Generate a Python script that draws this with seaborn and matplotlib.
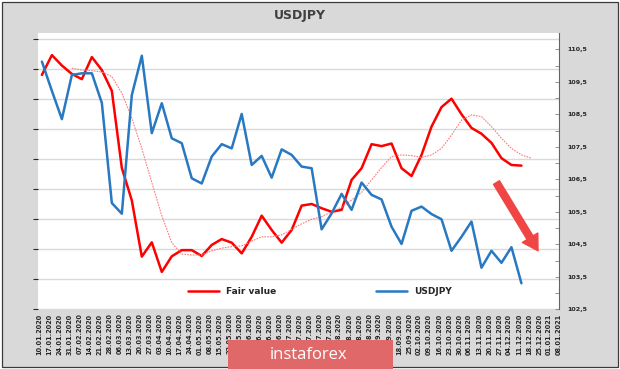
import numpy as np
import pandas as pd
import matplotlib
matplotlib.use("Agg")
import matplotlib.pyplot as plt
from matplotlib.patches import Rectangle
import seaborn as sns

# ---------------- data ----------------
date_labels = ["10.01.2020", "17.01.2020", "24.01.2020", "31.01.2020", "07.02.2020", "14.02.2020",
               "21.02.2020", "28.02.2020", "06.03.2020", "13.03.2020", "20.03.2020", "27.03.2020",
               "03.04.2020", "10.04.2020", "17.04.2020", "24.04.2020", "01.05.2020", "08.05.2020",
               "15.05.2020", "22.05.2020", "29.05.2020", "05.06.2020", "12.06.2020", "19.06.2020",
               "26.06.2020", "03.07.2020", "10.07.2020", "17.07.2020", "24.07.2020", "31.07.2020",
               "07.08.2020", "14.08.2020", "21.08.2020", "28.08.2020", "04.09.2020", "11.09.2020",
               "18.09.2020", "25.09.2020", "02.10.2020", "09.10.2020", "16.10.2020", "23.10.2020",
               "30.10.2020", "06.11.2020", "13.11.2020", "20.11.2020", "27.11.2020", "04.12.2020",
               "11.12.2020", "18.12.2020", "25.12.2020", "01.01.2021", "08.01.2021"]

fair_value = [109.71, 110.32, 110.00, 109.74, 109.58, 110.26, 109.86, 109.22, 106.85, 105.85,
              104.12, 104.56, 103.65, 104.13, 104.32, 104.32, 104.14, 104.48, 104.66, 104.55,
              104.22, 104.73, 105.38, 104.94, 104.55, 104.94, 105.69, 105.74, 105.61, 105.50,
              105.56, 106.48, 106.84, 107.58, 107.52, 107.60, 106.84, 106.60, 107.25, 108.12,
              108.72, 108.98, 108.50, 108.08, 107.90, 107.62, 107.15, 106.94, 106.92]

usdjpy = [110.12, 109.22, 108.35, 109.71, 109.76, 109.76, 108.85, 105.77, 105.44, 109.09,
          110.30, 107.92, 108.84, 107.76, 107.61, 106.53, 106.37, 107.20, 107.58, 107.45,
          108.51, 106.94, 107.22, 106.55, 107.42, 107.25, 106.89, 106.84, 104.96, 105.45,
          106.05, 105.56, 106.40, 106.02, 105.88, 105.04, 104.51, 105.53, 105.66, 105.43,
          105.27, 104.30, 104.73, 105.20, 103.78, 104.30, 103.93, 104.41, 103.30]

# smoothed fair value trend (dotted), starts at the 4th week
fair_trend = [np.nan, np.nan, np.nan,
              109.92, 109.86, 109.84, 109.80, 109.66, 109.15, 108.38, 107.45, 106.40, 105.38,
              104.55, 104.20, 104.17, 104.17, 104.30, 104.38, 104.43, 104.45, 104.60, 104.73,
              104.73, 104.79, 104.96, 105.13, 105.27, 105.35, 105.50, 105.64, 105.86, 106.10,
              106.48, 106.86, 107.20, 107.25, 107.23, 107.17, 107.25, 107.45, 107.86, 108.32,
              108.48, 108.43, 108.12, 107.76, 107.45, 107.25, 107.15]

ytick_values = [102.5, 103.5, 104.5, 105.5, 106.5, 107.5, 108.5, 109.5, 110.5]
ytick_labels = ["102,5", "103,5", "104,5", "105,5", "106,5", "107,5", "108,5", "109,5", "110,5"]

series_names = ["Fair value", "USDJPY"]

# ---------------- style ----------------
sns.set_style("white")
plt.rcParams["font.family"] = ["DejaVu Sans"]

W, H = 620, 369
fig = plt.figure(figsize=(W / 100, H / 100), dpi=100)
fig.patch.set_facecolor("white")

# gray frame background
fig.patches.append(Rectangle((2 / W, 2 / H), 616 / W, 365 / H, transform=fig.transFigure,
                             facecolor="#d9d9d9", edgecolor="#3a3a3a", linewidth=0.9, zorder=-1))

left, right_px, top_px, bottom_px = 38, 559, 33, 309.3
ax_grid = fig.add_axes([left / W, 1 - bottom_px / H, (right_px - left) / W, (bottom_px - top_px) / H])
ax_grid.set_facecolor("white")
# primary (hidden) axis provides the horizontal gridlines
ax_grid.set_ylim(0, (bottom_px - top_px) / 30.0)
ax_grid.set_yticks(range(10))
ax_grid.yaxis.grid(True, color="#d9d9d9", linewidth=1.0)
ax_grid.tick_params(axis="y", left=False, labelleft=False)
for s in ax_grid.spines.values():
    s.set_visible(False)

x_idx = np.arange(len(date_labels))
ax_grid.set_xticks(x_idx)
ax_grid.set_xticklabels(date_labels, rotation=90, fontsize=4.7, fontweight="bold", color="#262626")
ax_grid.tick_params(axis="x", length=0, pad=3)
ax_grid.set_xlim(-0.15, 52.0)

ax = ax_grid.twinx()
data_offset = 0.24
n = len(fair_value)
df = pd.DataFrame({
    "x": np.arange(n) + data_offset,
    "fair": fair_value,
    "usd": usdjpy,
    "trend": fair_trend[:n] + [],
})
df_trend = pd.DataFrame({"x": np.arange(len(fair_trend)) + data_offset, "trend": fair_trend})

sns.lineplot(data=df, x="x", y="fair", ax=ax, color="#ff0000", linewidth=1.8,
             label=series_names[0], legend=False)
sns.lineplot(data=df_trend.dropna(), x="x", y="trend", ax=ax, color="#ff7a7a", linewidth=0.8,
             linestyle=(0, (1.5, 1.0)), legend=False)
sns.lineplot(data=df, x="x", y="usd", ax=ax, color="#2878c2", linewidth=1.8,
             label=series_names[1], legend=False)

ax.set_ylim(102.5, 111.0)
ax.set_xlim(-0.15, 52.0)
ax.set_yticks(ytick_values)
ax.set_yticklabels(ytick_labels, fontsize=4.6, fontweight="bold", color="#262626")
ax.set_yticks([103, 104, 105, 106, 107, 108, 109, 110], minor=True)
ax.tick_params(axis="y", which="both", direction="in", length=3, width=0.6, color="#7f7f7f", pad=6)
ax.set_ylabel("")
ax.set_xlabel("")
for name, s in ax.spines.items():
    s.set_visible(name == "right")
ax.spines["right"].set_color("#9c4a4a")
ax.spines["right"].set_linewidth(0.8)

# red arrow
ax.annotate("", xy=(49.9, 104.30), xytext=(45.74, 106.40),
            arrowprops=dict(arrowstyle="simple,head_width=1.3,head_length=1.1,tail_width=0.5",
                            color="#f04545", mutation_scale=10, shrinkA=0, shrinkB=0))

# legend
handles = [ax.lines[0], ax.lines[2]]
fig.legend(handles, series_names, loc="center", bbox_to_anchor=(320 / W, 1 - 292 / H),
           ncol=2, frameon=False, handlelength=3.4, columnspacing=11,
           prop={"size": 6.5, "weight": "bold"}, labelcolor="#262626")

# title
fig.text(300 / W, 1 - 16 / H, "USDJPY", ha="center", va="center", fontsize=9,
         fontweight="bold", color="#404040")

# watermark
fig.patches.append(Rectangle((228 / W, 0), 165 / W, 29 / H, transform=fig.transFigure,
                             facecolor="#e06868", edgecolor="none", zorder=5))
fig.text(309 / W, 1 - 355 / H, "instaforex", ha="center", va="center", fontsize=12,
         color="white", family=["Open Sans", "DejaVu Sans"], zorder=6)

fig.savefig("out.png", dpi=100)
